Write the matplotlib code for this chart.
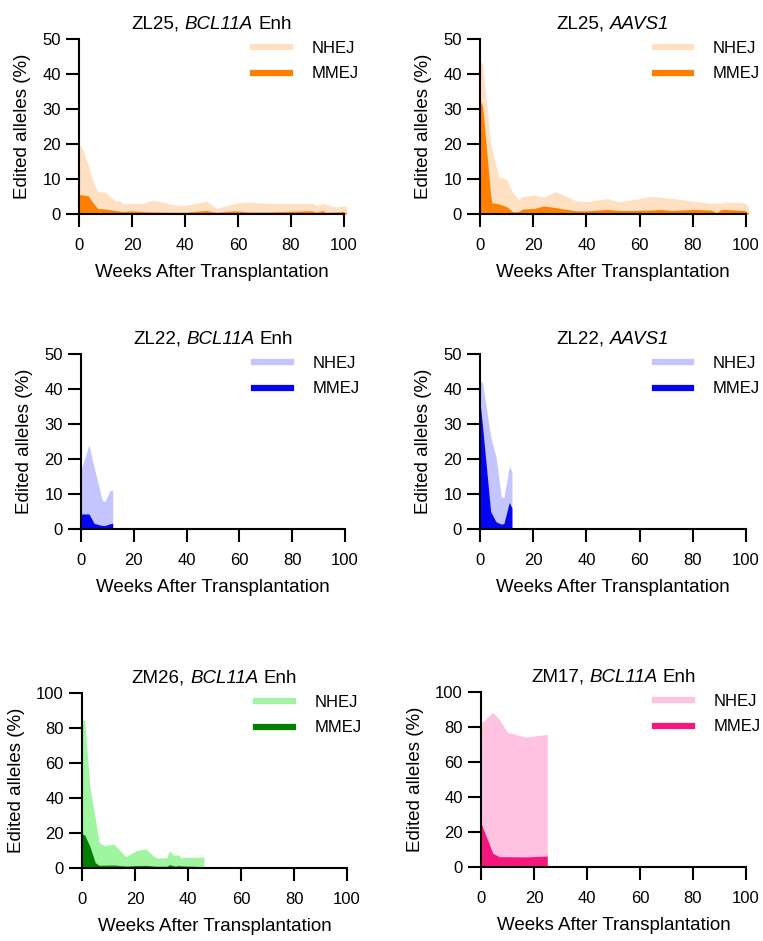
import matplotlib
matplotlib.use("Agg")
import matplotlib.pyplot as plt
from matplotlib.lines import Line2D
from matplotlib.transforms import offset_copy

plt.rcParams['font.family'] = ['Liberation Sans', 'DejaVu Sans']

# ZL25, BCL11A Enh
zl25_bcl_weeks = [0, 1.5, 3.5, 5, 7, 10, 11, 13.5, 15.5, 16.5, 20, 24, 28, 36, 40, 48, 52, 59, 64, 72, 87, 88, 89.5, 92, 93, 97, 99.5, 101]
zl25_bcl_nhej = [19.9, 18.3, 14.0, 10, 6.4, 6.2, 5.6, 3.8, 3.7, 2.9, 3.0, 3.0, 4.0, 2.6, 2.4, 3.7, 1.6, 3.1, 3.4, 3.0, 3.0, 3.1, 2.4, 3.0, 2.8, 2.0, 2.3, 2.1]
zl25_bcl_mmej = [5.6, 5.4, 5.2, 3.5, 1.6, 1.4, 1.3, 1.0, 0.8, 0.7, 0.9, 0.7, 0.6, 0.5, 0.5, 1.0, 0.5, 0.9, 0.6, 0.6, 0.9, 0.9, 0.5, 1.0, 0.5, 0.6, 0.7, 0.3]

# ZL25, AAVS1
zl25_aav_weeks = [0, 1, 4, 4.5, 7, 10, 12.5, 14.5, 16, 20.5, 24, 28.5, 36, 40, 48, 52, 59, 64, 68, 72, 80.5, 87, 89, 90.5, 92, 99.5, 101]
zl25_aav_nhej = [43.5, 43.0, 20.2, 18.5, 10.7, 9.9, 5.9, 4.2, 5.0, 5.4, 4.8, 6.4, 3.8, 3.5, 4.4, 3.5, 4.2, 5.1, 4.8, 4.5, 3.6, 3.0, 3.2, 3.0, 3.4, 3.2, 2.0]
zl25_aav_mmej = [32.6, 30.7, 5.4, 3.2, 2.9, 2.1, 0.6, 0.7, 1.4, 1.6, 2.3, 1.8, 0.9, 0.9, 1.3, 1.0, 1.0, 1.1, 1.3, 1.0, 1.3, 1.1, 0.4, 1.2, 1.3, 1.0, 0.2]

# ZL22, BCL11A Enh
zl22_bcl_weeks = [0, 3, 5, 8, 9, 11, 12]
zl22_bcl_nhej = [16.9, 24.0, 17.5, 8.3, 7.8, 11.0, 11.1]
zl22_bcl_mmej = [4.3, 4.3, 1.6, 1.0, 1.0, 1.5, 1.7]

# ZL22, AAVS1
zl22_aav_weeks = [0, 1, 4, 6, 8, 9, 11, 12]
zl22_aav_nhej = [42.6, 41.6, 26.4, 20.7, 9.2, 9.0, 17.8, 16.5]
zl22_aav_mmej = [36.4, 29.0, 5.0, 2.1, 1.4, 1.6, 7.6, 6.0]

# ZM26, BCL11A Enh
zm26_weeks = [0, 1, 3, 5, 6.5, 8.5, 12, 16.5, 20.5, 24, 28, 32, 33, 34.5, 35.5, 36, 37.5, 46]
zm26_nhej = [84.6, 84.2, 46, 28.4, 14.5, 12.8, 13.7, 6.5, 9.9, 10.9, 5.7, 5.9, 9.9, 7.4, 7.2, 7.8, 5.9, 6.3]
zm26_mmej = [19.4, 18.9, 12.2, 3.0, 1.5, 1.6, 1.7, 1.1, 1.4, 1.5, 1.0, 1.0, 1.9, 1.3, 1.0, 1.5, 1.2, 0.8]

# ZM17, BCL11A Enh
zm17_weeks = [0, 4.5, 7, 10, 17, 25]
zm17_nhej = [82.0, 88.5, 84.0, 77.0, 74.2, 75.8]
zm17_mmej = [25.0, 7.8, 5.9, 5.9, 5.8, 6.3]

# title pieces: (text, italic?)
titles = [
    [("ZL25,", False), ("BCL11A", True), ("Enh", False)],
    [("ZL25,", False), ("AAVS1", True)],
    [("ZL22,", False), ("BCL11A", True), ("Enh", False)],
    [("ZL22,", False), ("AAVS1", True)],
    [("ZM26,", False), ("BCL11A", True), ("Enh", False)],
    [("ZM17,", False), ("BCL11A", True), ("Enh", False)],
]

panels = [
    (zl25_bcl_weeks, zl25_bcl_nhej, zl25_bcl_mmej, '#FFE0C2', '#FF8000', 50),
    (zl25_aav_weeks, zl25_aav_nhej, zl25_aav_mmej, '#FFE0C2', '#FF8000', 50),
    (zl22_bcl_weeks, zl22_bcl_nhej, zl22_bcl_mmej, '#C4C4FF', '#0505F5', 50),
    (zl22_aav_weeks, zl22_aav_nhej, zl22_aav_mmej, '#C4C4FF', '#0505F5', 50),
    (zm26_weeks, zm26_nhej, zm26_mmej, '#A0F5A0', '#007F00', 100),
    (zm17_weeks, zm17_nhej, zm17_mmej, '#FFC2E0', '#F5177E', 100),
]

# axes rectangles in figure fractions
rects = [
    [0.1035, 0.7726, 0.3473, 0.186],
    [0.6291, 0.7726, 0.3486, 0.186],
    [0.1062, 0.4378, 0.3460, 0.186],
    [0.6291, 0.4378, 0.3486, 0.186],
    [0.1075, 0.0776, 0.3473, 0.186],
    [0.6304, 0.0786, 0.3473, 0.186],
]

title_size = 13.5

fig = plt.figure(figsize=(7.63, 9.41), dpi=100)
renderer = fig.canvas.get_renderer()


def mixed_title(ax, parts):
    # measure every piece, then lay them out centred over the axes
    widths = []
    for s, it in parts:
        t = fig.text(0, 0, s, fontsize=title_size, fontstyle='italic' if it else 'normal')
        widths.append(t.get_window_extent(renderer).width * 72 / fig.dpi)
        t.remove()
    space = 0.278 * title_size
    total = sum(widths) + space * (len(parts) - 1)
    x = -total / 2
    for (s, it), w in zip(parts, widths):
        tr = offset_copy(ax.transAxes, fig=fig, x=x, y=7.5, units='points')
        ax.text(0.5, 1.0, s, transform=tr, ha='left', va='baseline', fontsize=title_size,
                fontstyle='italic' if it else 'normal')
        x += w + space


for i in range(6):
    weeks, nhej, mmej, c_light, c_dark, ymax = panels[i]
    ax = fig.add_axes(rects[i])
    ax.fill_between(weeks, 0, nhej, color=c_light, lw=0, clip_on=False)
    ax.fill_between(weeks, 0, mmej, color=c_dark, lw=0, clip_on=False)

    ax.set_xlim(0, 100)
    ax.set_ylim(0, ymax)
    ax.set_xticks(range(0, 101, 20))
    if ymax == 50:
        ax.set_yticks(range(0, 51, 10))
    else:
        ax.set_yticks(range(0, 101, 20))

    for s in ['top', 'right']:
        ax.spines[s].set_visible(False)
    for s in ['left', 'bottom']:
        ax.spines[s].set_linewidth(1.5)
    ax.tick_params(length=9.5, width=1.5, labelsize=12)
    ax.tick_params(axis='x', pad=7.5)
    ax.tick_params(axis='y', pad=3.5)

    mixed_title(ax, titles[i])
    ax.set_xlabel('Weeks After Transplantation', fontsize=13.5, labelpad=8.5)
    ax.set_ylabel('Edited alleles (%)', fontsize=13.5, labelpad=8)

    handles = [Line2D([0], [0], color=c_light, lw=4.5),
               Line2D([0], [0], color=c_dark, lw=4.5)]
    ax.legend(handles, ['NHEJ', 'MMEJ'], loc='upper left', bbox_to_anchor=(0.657, 0.989),
              frameon=False, fontsize=12, borderpad=0, borderaxespad=0,
              handlelength=2.2, handletextpad=1.3, labelspacing=0.63)

plt.savefig('out.png', dpi=100)
